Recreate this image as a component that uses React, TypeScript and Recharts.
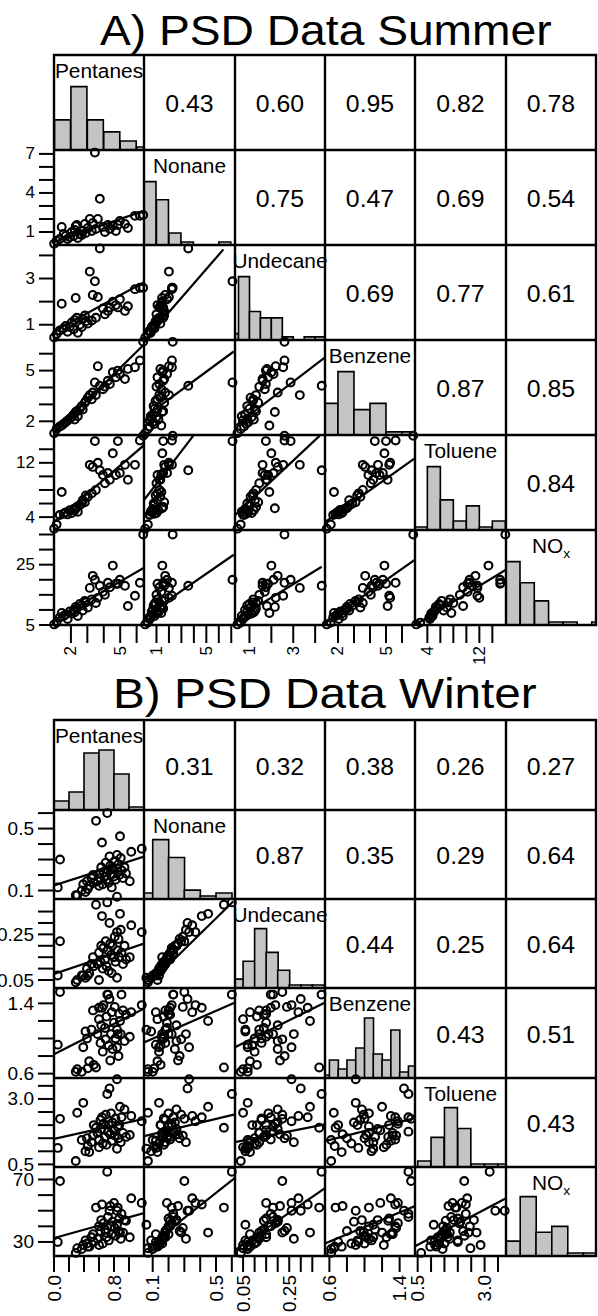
import React from 'react'
import { ComposedChart, Scatter, Bar, XAxis, YAxis, ReferenceLine } from 'recharts'

const FONT = '"Liberation Sans", Arial, Helvetica, sans-serif'

const variables = ['Pentanes', 'Nonane', 'Undecane', 'Benzene', 'Toluene', 'NOx']

// ---------- A) summer samples ----------
const summerPentanes = [0.98, 1.13, 1.32, 1.44, 1.56, 1.68, 1.80, 1.93, 2.05, 2.17, 2.23, 2.29, 2.36, 2.42, 2.54, 2.66, 2.72, 2.85, 2.91, 3.03, 3.15, 3.27, 3.33, 3.46, 3.52, 3.64, 3.76, 3.95, 4.07, 4.25, 4.37, 4.55, 4.74, 4.86, 4.98, 5.29, 5.47, 5.90, 6.20, 6.40]
const summerNonane = [0.10, 0.31, 0.46, 1.39, 0.85, 0.70, 0.46, 0.62, 1.00, 0.70, 1.16, 1.45, 1.54, 0.54, 0.85, 0.77, 1.08, 1.62, 0.93, 1.31, 2.00, 1.08, 1.70, 7.10, 1.23, 2.00, 3.55, 1.39, 1.00, 1.54, 1.23, 1.47, 1.08, 1.54, 1.85, 1.62, 1.31, 2.24, 2.24, 2.30]
const summerUndecane = [0.45, 0.60, 0.75, 1.91, 0.85, 0.95, 0.70, 0.90, 1.10, 0.80, 1.20, 2.16, 1.30, 0.65, 1.00, 0.90, 1.25, 1.40, 1.15, 1.05, 3.30, 1.18, 2.29, 2.88, 1.30, 2.20, 4.30, 1.70, 1.45, 1.60, 1.75, 2.00, 1.85, 1.75, 2.10, 1.60, 1.80, 2.54, 2.60, 2.60]
const summerBenzene = [1.30, 1.55, 1.70, 1.75, 1.85, 1.95, 2.05, 2.15, 2.25, 2.40, 2.10, 2.55, 2.60, 2.30, 2.75, 2.90, 2.70, 3.10, 3.20, 3.40, 3.55, 3.30, 3.70, 4.30, 3.55, 5.26, 4.10, 3.90, 4.05, 4.40, 4.20, 4.90, 4.60, 5.00, 4.80, 4.50, 5.10, 5.20, 5.60, 6.70]
const summerToluene = [2.3, 2.9, 4.3, 7.7, 4.5, 4.7, 4.4, 5.0, 4.6, 5.2, 5.0, 5.3, 5.5, 4.8, 5.8, 6.0, 6.5, 6.2, 7.2, 7.0, 11.7, 7.5, 11.4, 15.2, 8.0, 12.0, 10.9, 10.2, 9.0, 10.5, 9.5, 13.4, 10.2, 15.2, 10.5, 11.7, 9.5, 11.7, 15.3, 16.0]
const summerNOx = [5.2, 5.8, 7.5, 9.0, 8.0, 8.5, 7.0, 9.5, 8.8, 10.0, 9.2, 11.0, 10.5, 8.0, 12.0, 11.5, 9.8, 13.0, 12.5, 10.8, 17.3, 13.5, 21.3, 20.0, 12.3, 14.0, 18.0, 16.0, 15.0, 19.0, 17.5, 24.7, 18.7, 18.7, 20.0, 18.0, 11.3, 14.7, 19.0, 35.0]

// same range is used on x and y for a variable
const summerRanges = [[0.97, 6.45], [0, 7.3], [0.34, 4.45], [1.19, 6.81], [2.1, 16.1], [5, 36.5]]
const summerTicks = [[2, 3, 4, 5, 6], [1, 2, 3, 4, 5, 6, 7], [1, 2, 3, 4], [2, 3, 4, 5, 6], [4, 6, 8, 10, 12, 14], [5, 10, 15, 20, 25, 30, 35]]
const summerXLabels = [['2', '5'], ['1', '5'], ['1', '3'], ['2', '5'], ['4', '12'], []]
const summerYLabels = [[], ['1', '4', '7'], ['1', '3'], ['2', '5'], ['4', '12'], ['5', '25']]

// diagonal histograms: lower bin edges and counts
const summerBinWidth = [1, 1, 0.5, 1, 2, 5]
const summerBinEdges = [[1, 2, 3, 4, 5, 6], [0, 1, 2, 3, 4, 5, 6], [0, 0.5, 1, 1.5, 2, 2.5, 3, 3.5, 4], [1, 2, 3, 4, 5, 6], [2, 4, 6, 8, 10, 12, 14], [5, 10, 15, 20, 25, 30, 35]]
const summerBinCounts = [[10, 21, 10, 6, 3, 1], [21, 15, 4, 1, 0, 0, 1], [2, 20, 9, 7, 7, 1, 0, 1, 1], [10, 20, 8, 10, 1, 1], [1, 21, 10, 3, 8, 1, 3], [21, 14, 8, 1, 1, 0, 1]]

// correlation coefficients, upper triangle row by row
const summerCorr = [['0.43', '0.60', '0.95', '0.82', '0.78'], ['0.75', '0.47', '0.69', '0.54'], ['0.69', '0.77', '0.61'], ['0.87', '0.85'], ['0.84']]

// fitted lines: [row var, col var, x1, y1, x2, y2]
const summerFits = [
  [1, 0, 0.97, 0.23, 6.45, 2.62],
  [2, 0, 0.97, 0.72, 6.45, 2.84],
  [2, 1, 0.24, 0.45, 6.37, 4.26],
  [3, 0, 0.97, 1.31, 6.45, 6.54],
  [3, 1, 0.24, 2.35, 7.2, 6.13],
  [3, 2, 0.34, 1.72, 4.45, 5.78],
  [4, 0, 0.97, 3.25, 6.45, 14.6],
  [4, 1, 0, 6.5, 3.96, 16.0],
  [4, 2, 0.34, 4.28, 4.21, 16.0],
  [4, 3, 1.19, 3.25, 6.81, 12.68],
  [5, 0, 0.97, 6.67, 6.45, 24.0],
  [5, 1, 0, 7.67, 7.2, 28.3],
  [5, 2, 0.34, 6.67, 4.3, 24.3],
  [5, 3, 1.19, 5.67, 6.81, 26.7],
  [5, 4, 2.1, 5.0, 16.1, 23.3],
]

// ---------- B) winter samples ----------
const winterPentanes = [0.05, 0.08, 0.29, 0.31, 0.37, 0.39, 0.44, 0.47, 0.50, 0.52, 0.56, 0.64, 0.71, 0.84, 1.17, 0.58, 0.60, 0.62, 0.63, 0.65, 0.66, 0.68, 0.69, 0.70, 0.72, 0.73, 0.75, 0.76, 0.77, 0.78, 0.80, 0.81, 0.82, 0.84, 0.85, 0.86, 0.87, 0.89, 0.90, 0.92, 0.94, 0.96, 1.01, 1.03, 0.45, 0.42, 0.53, 0.60, 0.74, 0.88]
const winterNonane = [0.12, 0.30, 0.07, 0.07, 0.10, 0.14, 0.16, 0.13, 0.18, 0.20, 0.55, 0.41, 0.60, 0.33, 0.37, 0.16, 0.21, 0.18, 0.25, 0.14, 0.22, 0.19, 0.28, 0.17, 0.23, 0.15, 0.26, 0.20, 0.12, 0.24, 0.19, 0.29, 0.17, 0.06, 0.22, 0.27, 0.20, 0.31, 0.23, 0.18, 0.25, 0.21, 0.16, 0.35, 0.11, 0.09, 0.15, 0.13, 0.32, 0.45]
const winterUndecane = [0.07, 0.22, 0.04, 0.05, 0.07, 0.07, 0.10, 0.08, 0.12, 0.15, 0.38, 0.33, 0.39, 0.26, 0.26, 0.12, 0.17, 0.13, 0.20, 0.10, 0.19, 0.14, 0.22, 0.11, 0.18, 0.09, 0.21, 0.16, 0.08, 0.20, 0.15, 0.24, 0.13, 0.06, 0.18, 0.23, 0.15, 0.27, 0.17, 0.12, 0.20, 0.14, 0.15, 0.29, 0.07, 0.06, 0.11, 0.05, 0.30, 0.34]
const winterBenzene = [0.93, 1.53, 0.62, 0.65, 0.62, 0.90, 1.00, 0.74, 1.10, 1.32, 0.67, 1.35, 1.50, 0.90, 1.38, 1.05, 1.35, 0.95, 1.15, 0.85, 1.38, 1.12, 0.99, 1.25, 1.50, 0.92, 0.75, 1.05, 1.30, 0.88, 1.18, 1.36, 1.00, 1.10, 1.05, 0.80, 1.28, 1.05, 1.50, 1.32, 0.97, 1.27, 1.02, 1.30, 0.66, 1.08, 0.70, 1.22, 1.45, 1.20]
const winterToluene = [1.13, 2.24, 0.63, 2.47, 1.43, 2.85, 1.50, 0.97, 1.35, 1.60, 1.90, 2.30, 3.19, 3.75, 2.15, 1.70, 1.45, 2.20, 1.85, 1.30, 2.05, 1.55, 2.40, 1.25, 1.75, 2.00, 1.65, 2.45, 1.40, 2.10, 1.80, 1.60, 2.25, 1.10, 1.95, 1.50, 2.00, 1.35, 2.30, 1.70, 2.60, 1.55, 1.62, 2.35, 1.20, 1.00, 2.00, 1.15, 3.40, 2.70]
const winterNOx = [30, 69, 23, 26, 25.5, 28, 29, 27, 33, 35, 52, 54, 75, 50, 55, 32, 40, 37, 44, 29, 42, 38, 36, 33, 46, 31, 53, 40, 35, 43, 55, 39, 34, 41, 52, 37, 45, 32, 48, 36, 44, 43.6, 33, 58, 27, 31, 30, 28, 50, 36]

const winterRanges = [[0, 1.2], [0.045, 0.62], [0.015, 0.405], [0.55, 1.575], [0.4, 3.8], [21, 78]]
const winterTicks = [[0, 0.2, 0.4, 0.6, 0.8, 1.0], [0.1, 0.2, 0.3, 0.4, 0.5, 0.6], [0.05, 0.1, 0.15, 0.2, 0.25, 0.3, 0.35], [0.6, 0.8, 1.0, 1.2, 1.4], [0.5, 1.0, 1.5, 2.0, 2.5, 3.0, 3.5], [30, 40, 50, 60, 70]]
const winterXLabels = [['0.0', '0.8'], ['0.1', '0.5'], ['0.05', '0.25'], ['0.6', '1.4'], ['0.5', '3.0'], []]
const winterYLabels = [[], ['0.1', '0.5'], ['0.05', '0.25'], ['0.6', '1.4'], ['0.5', '3.0'], ['30', '70']]

const winterBinWidth = [0.2, 0.1, 0.05, 0.1, 0.5, 10]
const winterBinEdges = [[0, 0.2, 0.4, 0.6, 0.8, 1.0], [0, 0.1, 0.2, 0.3, 0.4, 0.5], [0, 0.05, 0.1, 0.15, 0.2, 0.25, 0.3, 0.35], [0.5, 0.6, 0.7, 0.8, 0.9, 1.0, 1.1, 1.2, 1.3, 1.4, 1.5], [0.5, 1.0, 1.5, 2.0, 2.5, 3.0, 3.5], [20, 30, 40, 50, 60, 70]]
const winterBinCounts = [[3, 6, 19, 20, 12, 1], [2, 20, 14, 3, 1, 2], [3, 9, 20, 12, 6, 1, 1, 1], [1, 6, 3, 6, 10, 20, 8, 6, 16, 2, 4], [2, 10, 20, 13, 1, 1, 1], [5, 20, 8, 10, 1, 1]]

const winterCorr = [['0.31', '0.32', '0.38', '0.26', '0.27'], ['0.87', '0.35', '0.29', '0.64'], ['0.44', '0.25', '0.64'], ['0.43', '0.51'], ['0.43']]

const winterFits = [
  [1, 0, 0, 0.133, 1.2, 0.319],
  [2, 0, 0, 0.077, 1.2, 0.21],
  [2, 1, 0.069, 0.027, 0.61, 0.395],
  [3, 0, 0, 0.82, 1.2, 1.34],
  [3, 1, 0.045, 0.955, 0.62, 1.41],
  [3, 2, 0.015, 0.9, 0.405, 1.41],
  [4, 0, 0, 1.47, 1.2, 2.24],
  [4, 1, 0.045, 1.58, 0.62, 2.41],
  [4, 2, 0.015, 1.35, 0.405, 2.03],
  [4, 3, 0.55, 1.39, 1.575, 2.27],
  [5, 0, 0, 32.5, 1.2, 48.5],
  [5, 1, 0.069, 26.8, 0.62, 71],
  [5, 2, 0.015, 24.8, 0.405, 64.5],
  [5, 3, 0.55, 29, 1.575, 53],
  [5, 4, 0.4, 27.2, 3.8, 58.0],
]

// ---------- layout ----------
const COLS = [54, 144, 235, 325, 415, 506, 596]
const ROWS_A = [55, 150, 245, 340, 435, 530, 625]
const ROWS_B = [720, 810, 899, 988, 1078, 1167, 1256]

const seasons = [
  {
    key: 'A', title: 'A) PSD Data Summer', titleX: 100, titleY: 45, titleScale: 1.1, rows: ROWS_A,
    samples: [summerPentanes, summerNonane, summerUndecane, summerBenzene, summerToluene, summerNOx],
    ranges: summerRanges, ticks: summerTicks, xLabels: summerXLabels, yLabels: summerYLabels,
    binWidth: summerBinWidth, binEdges: summerBinEdges, binCounts: summerBinCounts,
    corr: summerCorr, fits: summerFits, tickFont: 17, yTickLen: 15, xTickLen: 18, axisH: 45,
  },
  {
    key: 'B', title: 'B) PSD Data Winter', titleX: 113, titleY: 708, titleScale: 1.135, rows: ROWS_B,
    samples: [winterPentanes, winterNonane, winterUndecane, winterBenzene, winterToluene, winterNOx],
    ranges: winterRanges, ticks: winterTicks, xLabels: winterXLabels, yLabels: winterYLabels,
    binWidth: winterBinWidth, binEdges: winterBinEdges, binCounts: winterBinCounts,
    corr: winterCorr, fits: winterFits, tickFont: 19, yTickLen: 16, xTickLen: 16, axisH: 60,
  },
]

const NO_MARGIN = { top: 0, right: 0, bottom: 0, left: 0 }

const ring = (p: any) => (
  <circle cx={p.cx} cy={p.cy} r={3.9} fill="none" stroke="#000" strokeWidth={2.1} />
)

const findLabel = (labels: string[], v: number) => labels.find(l => Math.abs(parseFloat(l) - v) < 1e-6)

function RotTick(props: any) {
  const { x, y, payload, labels, fontSize } = props
  const label = findLabel(labels, payload.value)
  if (!label) return null
  return (
    <text x={x} y={y} transform={`rotate(-90 ${x} ${y})`} textAnchor="end" dominantBaseline="central"
      fontSize={fontSize} fontFamily={FONT} fill="#000">{label}</text>
  )
}

function SideTick(props: any) {
  const { x, y, payload, labels, fontSize } = props
  const label = findLabel(labels, payload.value)
  if (!label) return null
  return (
    <text x={x} y={y} textAnchor="end" dominantBaseline="central" fontSize={fontSize} fontFamily={FONT} fill="#000">{label}</text>
  )
}

function ScatterCell({ s, i, j }: any) {
  const showY = j === 0
  const showX = i === 5
  const yw = showY ? 54 : 0
  const xh = showX ? s.axisH : 0
  // spare room around the plot so edge circles and edge tick labels are not cut
  const m = {
    top: showY ? 12 : 6,
    bottom: showX ? 0 : showY ? 12 : 6,
    left: showY ? 0 : showX ? 12 : 6,
    right: showX ? 12 : 6,
  }
  const w = COLS[j + 1] - COLS[j] + yw + m.left + m.right
  const h = s.rows[i + 1] - s.rows[i] + xh + m.top + m.bottom
  const points = s.samples[j].map((v: number, k: number) => ({ x: v, y: s.samples[i][k] }))
  const fit = s.fits.find((f: number[]) => f[0] === i && f[1] === j)
  return (
    <div style={{ position: 'absolute', left: COLS[j] - yw - m.left, top: s.rows[i] - m.top }}>
      <ComposedChart width={w} height={h} margin={m}>
        <XAxis type="number" dataKey="x" domain={s.ranges[j]} ticks={s.ticks[j]} interval={0}
          hide={!showX} height={xh} stroke="#000" axisLine={false} tickSize={s.xTickLen} tickMargin={3}
          tickLine={{ stroke: '#000', strokeWidth: 2 }}
          tick={<RotTick labels={s.xLabels[j]} fontSize={s.tickFont} />} />
        <YAxis type="number" dataKey="y" domain={s.ranges[i]} ticks={s.ticks[i]} interval={0}
          hide={!showY} width={yw} stroke="#000" axisLine={false} tickSize={s.yTickLen} tickMargin={4}
          tickLine={{ stroke: '#000', strokeWidth: 2 }}
          tick={<SideTick labels={s.yLabels[i]} fontSize={s.tickFont} />} />
        <Scatter data={points} shape={ring} isAnimationActive={false} />
        {fit && (
          <ReferenceLine segment={[{ x: fit[2], y: fit[3] }, { x: fit[4], y: fit[5] }]}
            stroke="#000" strokeWidth={2.2} ifOverflow="hidden" />
        )}
      </ComposedChart>
    </div>
  )
}

function HistCell({ s, i }: any) {
  const w = COLS[i + 1] - COLS[i]
  const h = s.rows[i + 1] - s.rows[i]
  const bins = s.binEdges[i].map((e: number, k: number) => ({ mid: e + s.binWidth[i] / 2, count: s.binCounts[i][k] }))
  const top = Math.max(...s.binCounts[i]) * 1.5
  return (
    <div style={{ position: 'absolute', left: COLS[i], top: s.rows[i] }}>
      <ComposedChart width={w} height={h} data={bins} margin={NO_MARGIN} barCategoryGap={0} barGap={0}>
        <XAxis type="number" dataKey="mid" domain={s.ranges[i]} hide allowDataOverflow />
        <YAxis type="number" domain={[0, top]} hide allowDataOverflow />
        <Bar dataKey="count" fill="#c4c4c4" stroke="#000" strokeWidth={1.6} isAnimationActive={false} />
      </ComposedChart>
    </div>
  )
}

function Overlay() {
  return (
    <svg width={598} height={1316} style={{ position: 'absolute', left: 0, top: 0, pointerEvents: 'none' }}>
      {seasons.map(s => {
        const r = s.rows
        return (
          <g key={s.key}>
            <text transform={`translate(${s.titleX} ${s.titleY}) scale(${s.titleScale} 1)`} fontSize={42}
              fontFamily={FONT} fill="#000">{s.title}</text>
            {COLS.map((c, k) => (
              <line key={'v' + k} x1={c} x2={c} y1={r[0] - 1} y2={r[6] + 1} stroke="#000" strokeWidth={2.4} />
            ))}
            {r.map((y, k) => (
              <line key={'h' + k} x1={COLS[0] - 1} x2={COLS[6] + 1} y1={y} y2={y} stroke="#000" strokeWidth={2.4} />
            ))}
            {variables.map((name, i) => {
              const cx = (COLS[i] + COLS[i + 1]) / 2
              return (
                <text key={'n' + i} transform={`translate(${cx} ${r[i] + 23}) scale(1.07 1)`} textAnchor="middle"
                  fontSize={19.5} fontFamily={FONT} fill="#000">
                  {name === 'NOx' ? <>NO<tspan fontSize={13} dy={5}>x</tspan></> : name}
                </text>
              )
            })}
            {s.corr.map((row, i) => row.map((val, k) => {
              const j = i + 1 + k
              const cx = (COLS[j] + COLS[j + 1]) / 2
              const cy = (r[i] + r[i + 1]) / 2
              return (
                <text key={`c${i}-${j}`} transform={`translate(${cx} ${cy + 9.8}) scale(1.08 1)`} textAnchor="middle"
                  fontSize={23} fontFamily={FONT} fill="#000">{val}</text>
              )
            }))}
          </g>
        )
      })}
    </svg>
  )
}

export default function App() {
  return (
    <div style={{ position: 'absolute', left: 0, top: 0, width: 598, height: 1316, background: '#fff', overflow: 'hidden' }}>
      {seasons.map(s => (
        <React.Fragment key={s.key}>
          {variables.map((_, i) => (
            <React.Fragment key={i}>
              <HistCell s={s} i={i} />
              {variables.map((__, j) => (j < i ? <ScatterCell key={j} s={s} i={i} j={j} /> : null))}
            </React.Fragment>
          ))}
        </React.Fragment>
      ))}
      <Overlay />
    </div>
  )
}
